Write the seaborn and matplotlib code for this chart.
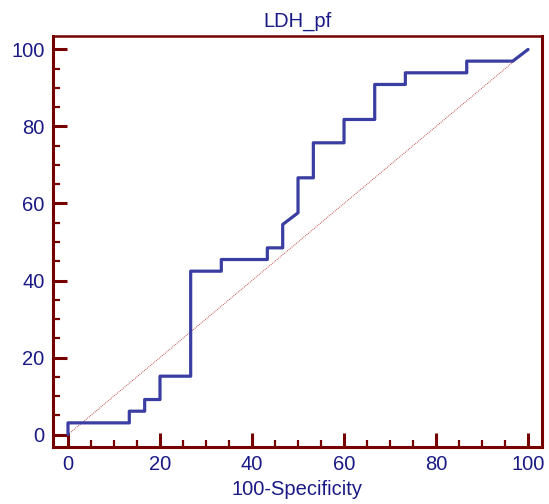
import numpy as np
import pandas as pd
import seaborn as sns
import matplotlib.pyplot as plt
from matplotlib.ticker import MultipleLocator

# ROC curve points (100-Specificity, Sensitivity)
fpr = [0, 0, 13.33, 13.33, 16.67, 16.67, 20, 20, 26.67, 26.67, 33.33, 33.33,
       43.33, 43.33, 46.67, 46.67, 50, 50, 53.33, 53.33, 60, 60, 66.67, 66.67,
       73.33, 73.33, 86.67, 86.67, 96.67, 100]
tpr = [0, 3.03, 3.03, 6.06, 6.06, 9.09, 9.09, 15.15, 15.15, 42.42, 42.42, 45.45,
       45.45, 48.48, 48.48, 54.55, 57.58, 66.67, 66.67, 75.76, 75.76, 81.82, 81.82, 90.91,
       90.91, 93.94, 93.94, 96.97, 96.97, 100]
ref = [0, 100]
ticks = [0, 20, 40, 60, 80, 100]

sns.set_style("white")
plt.rcParams['font.family'] = ['Liberation Sans', 'DejaVu Sans']

frame = "#760000"
navy = "#1a1a86"

roc = pd.DataFrame({"fpr": fpr, "tpr": tpr})

fig = plt.figure(figsize=(5.49, 5.04), dpi=100)
ax = fig.add_axes([0.0965, 0.113, 0.8905, 0.8156])

ax.plot(ref, ref, color="#c05050", lw=0.7, ls=(0, (1, 1)))
sns.lineplot(data=roc, x="fpr", y="tpr", sort=False, estimator=None,
             color="#3a3ea2", lw=2.3, ax=ax)

ax.set_xlim(-3.26, 103.0)
ax.set_ylim(-3.25, 103.5)
ax.set_xticks(ticks)
ax.set_yticks(ticks)
ax.xaxis.set_minor_locator(MultipleLocator(5))
ax.yaxis.set_minor_locator(MultipleLocator(5))

for side in ax.spines:
    ax.spines[side].set_color(frame)
    ax.spines[side].set_linewidth(2.2)
ax.spines["top"].set_linewidth(1.8)

ax.tick_params(which="major", direction="in", length=10, width=2.2, color=frame,
               labelsize=14.5, labelcolor=navy, pad=6)
ax.tick_params(which="minor", direction="in", length=5, width=1.6, color=frame)
ax.tick_params(bottom=True, left=True, top=False, right=False, which="both")

ax.set_title("LDH_pf", color=navy, fontsize=14.5, pad=7)
ax.set_xlabel("100-Specificity", color=navy, fontsize=14.5, labelpad=4)
ax.set_ylabel("")

fig.savefig("out.png", dpi=100)
